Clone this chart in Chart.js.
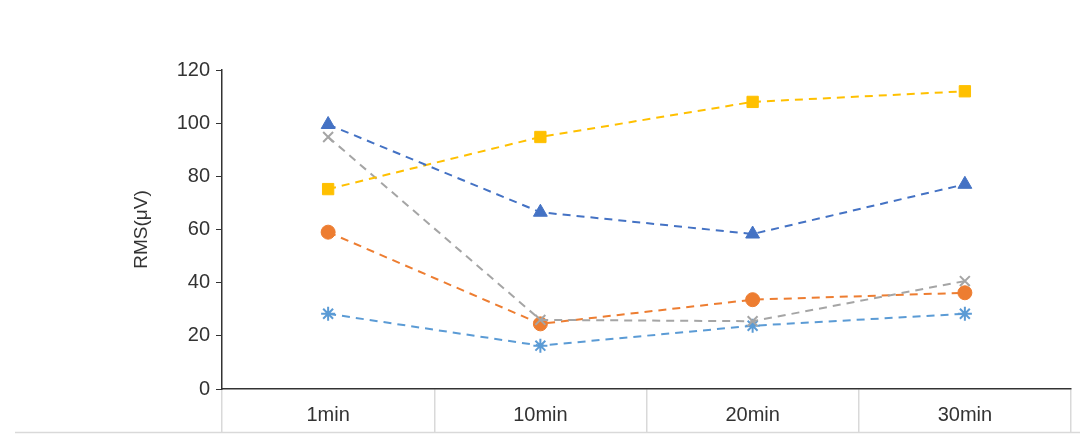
<!DOCTYPE html>
<html><head><meta charset="utf-8">
<script src="https://cdn.jsdelivr.net/npm/chart.js@4/dist/chart.umd.min.js"></script>
<style>html,body{margin:0;padding:0;background:#fff}#w{width:1080px;height:436px}</style>
</head><body><div id="w"><canvas id="c"></canvas></div>
<script>
const categories=["1min","10min","20min","30min"];
const triangle=[99.5,66.5,58.3,77];
const square=[75.2,94.8,108,112];
const cross=[94.8,26,25.5,40.6];
const circle=[59,24.5,33.6,36.2];
const asterisk=[28.3,16.3,23.8,28.3];
const yTicks=[0,20,40,60,80,100,120];
function ds(data,color,style,r){return{data,borderColor:color,backgroundColor:color,pointStyle:style,pointRadius:r,pointBorderWidth:style==='crossRot'||style==='star'?2:1,borderWidth:2,borderDash:[8,6],fill:false,tension:0};}
const tableLine={id:'tl',afterDraw(ch){const c=ch.ctx;c.save();c.strokeStyle='#d9d9d9';c.lineWidth=1.5;c.beginPath();c.moveTo(15,432.5);c.lineTo(1080,432.5);c.stroke();c.restore();}};
new Chart(document.getElementById('c'),{type:'line',
data:{labels:categories,datasets:[ds(triangle,'#4472C4','triangle',8),ds(square,'#FFC000','rect',8),ds(cross,'#A5A5A5','crossRot',7),ds(circle,'#ED7D31','circle',7),ds(asterisk,'#5B9BD5','star',7)]},
options:{responsive:true,maintainAspectRatio:false,animation:false,
layout:{padding:{top:70,right:6,left:126,bottom:0}},
plugins:{legend:{display:false},tooltip:{enabled:false}},
scales:{
x:{offset:true,afterFit(s){s.height=47;},grid:{offset:true,drawOnChartArea:false,drawTicks:true,tickLength:44,color:'#d9d9d9',lineWidth:1.5},border:{color:'#333',width:1.5},ticks:{font:{size:20,family:'Liberation Sans'},color:'#333',padding:-30}},
y:{min:0,max:120,afterFit(s){s.width=96;},afterBuildTicks(s){s.ticks=yTicks.map(v=>({value:v}));},grid:{drawOnChartArea:false,drawTicks:true,tickLength:6,color:'#333'},border:{color:'#333',width:1.5},ticks:{font:{size:20,family:'Liberation Sans'},color:'#333',padding:6},title:{display:true,text:'RMS(μV)',font:{size:19,family:'Liberation Sans'},color:'#333',padding:{bottom:6}}}
}},plugins:[tableLine]});
</script></body></html>
